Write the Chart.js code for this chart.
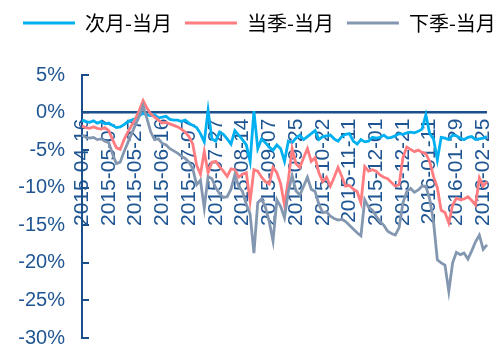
<!DOCTYPE html>
<html>
<head>
<meta charset="utf-8">
<script src="https://cdn.jsdelivr.net/npm/chart.js@4.4.1/dist/chart.umd.min.js"></script>
<style>
  html, body { margin: 0; padding: 0; background: #fff; overflow: hidden; }
  #wrap { width: 560px; height: 352px; }
</style>
</head>
<body>
<div id="wrap"><canvas id="spreadChart" width="560" height="352"></canvas></div>
<script>
const seriesNames = ["次月-当月", "当季-当月", "下季-当月"];

// one label every 7 points (points are every other trading day)
const tickLabels = [
    "2015-04-16", "2015-05-07", "2015-05-27", "2015-06-16", "2015-07-07", "2015-07-27",
    "2015-08-14", "2015-09-07", "2015-09-25", "2015-10-22", "2015-11-11", "2015-12-01",
    "2015-12-21", "2016-01-11", "2016-01-29", "2016-02-25"
];
const labelStep = 7;

const nextMonth = [
    -1.0, -1.2, -1.3, -1.1, -1.4, -1.2, -1.5, -1.4, -1.7, -2.0,
    -1.9, -1.6, -1.2, -1.0, -0.8, -0.4, -0.1, -0.3, -0.4, -0.3,
    -0.7, -0.6, -0.5, -0.9, -1.0, -1.0, -1.2, -1.0, -1.4, -1.7,
    -2.0, -2.8, -3.9, 0.3, -3.5, -3.8, -2.6, -2.9, -3.5, -4.2,
    -2.4, -3.0, -3.6, -4.3, -6.5, 0.2, -4.8, -3.5, -4.0, -4.6,
    -5.0, -4.3, -4.8, -6.5, -3.8, -4.0, -3.4, -3.0, -3.6, -3.2,
    -2.8, -2.4, -3.6, -3.2, -3.1, -3.0, -3.5, -3.8, -3.2, -2.9,
    -2.8, -3.8, -4.2, -3.6, -3.9, -3.8, -3.3, -3.4, -3.3, -3.0,
    -3.4, -3.3, -3.1, -2.8, -2.9, -2.7, -2.6, -2.7, -2.5, -2.2,
    -0.3, -2.8, -3.5, -6.3, -3.3, -3.4, -3.6, -3.0, -3.1, -3.4,
    -3.6, -3.3, -3.2, -3.6, -3.5, -3.4, -3.2
];
const thisQuarter = [
    -1.8, -2.0, -2.1, -1.9, -2.1, -2.2, -2.0, -2.4, -3.6, -4.7,
    -4.9, -3.6, -2.6, -1.7, -0.8, 0.3, 1.6, 0.6, -0.2, -0.6,
    -1.0, -1.4, -1.3, -1.5, -1.7, -1.9, -2.2, -2.6, -3.2, -4.2,
    -7.0, -8.2, -5.2, -8.0, -6.6, -6.5, -7.2, -7.8, -8.5, -7.5,
    -7.6, -8.6, -8.2, -8.0, -11.8, -7.6, -7.8, -8.6, -9.2, -9.5,
    -7.3, -8.0, -9.5, -12.3, -9.0, -4.8, -6.8, -7.3, -6.0, -4.8,
    -6.5, -6.0, -8.0, -9.2, -8.6, -9.8, -8.6, -7.3, -8.5, -9.8,
    -9.7, -10.2, -10.5, -12.0, -7.2, -7.8, -7.6, -7.8, -8.3, -8.6,
    -8.8, -9.3, -9.8, -9.6, -6.0, -4.6, -4.9, -5.2, -5.0, -5.3,
    -5.5, -6.5, -8.5, -10.0, -13.0, -13.3, -14.7, -12.3, -11.4, -11.6,
    -11.5, -11.2, -11.7, -12.3, -8.7, -9.8, -9.2
];
const nextQuarter = [
    -3.0, -3.3, -3.4, -3.3, -3.6, -3.5, -3.8, -4.0, -5.5, -6.8,
    -6.6, -5.2, -4.0, -2.8, -1.6, -0.5, 0.9, -0.8, -2.6, -3.6,
    -3.5, -4.1, -4.3, -4.8, -5.1, -5.4, -5.8, -6.1, -6.6, -7.5,
    -9.6, -9.0, -12.7, -8.5, -8.8, -10.0, -10.8, -11.3, -11.2, -10.2,
    -8.3, -9.8, -10.5, -12.2, -13.5, -18.7, -12.0, -11.5, -12.6, -14.5,
    -17.1, -11.6, -12.5, -14.0, -10.5, -8.4, -10.4, -11.0, -9.8, -8.6,
    -10.2, -10.5, -12.2, -13.3, -13.2, -13.8, -14.1, -14.3, -14.2, -14.5,
    -15.0, -15.5, -16.0, -16.4, -11.6, -12.6, -13.0, -13.8, -14.5, -15.0,
    -15.8, -16.1, -16.3, -15.3, -12.0, -10.5, -10.1, -10.6, -10.3, -9.8,
    -9.8, -11.5, -14.5, -19.6, -20.0, -20.3, -23.8, -20.0, -18.6, -18.9,
    -18.7, -19.5, -18.4, -17.2, -16.3, -18.2, -17.6
];

const axisColor = "#1B4F8C";
const textColor = "#1F5592";
const numFont = { family: '"Liberation Sans", Arial, sans-serif', size: 20 };

const xLabels = nextMonth.map((_, i) => (i % labelStep === 0 ? tickLabels[i / labelStep] || "" : ""));

// push the plot down below the legend
const legendSpacer = {
    id: "legendSpacer",
    beforeInit(chart) {
        const origFit = chart.legend.fit;
        chart.legend.fit = function () {
            origFit.bind(chart.legend)();
            this.height += 32;
        };
    },
};

const ctx = document.getElementById("spreadChart").getContext("2d");

new Chart(ctx, {
    type: "line",
    data: {
        labels: xLabels,
        datasets: [
            { label: seriesNames[0], data: nextMonth, borderColor: "#00B0F0", order: 3 },
            { label: seriesNames[1], data: thisQuarter, borderColor: "#FF7C80", order: 2 },
            { label: seriesNames[2], data: nextQuarter, borderColor: "#8497B0", order: 1 },
        ].map((ds) => ({ ...ds, backgroundColor: ds.borderColor, borderWidth: 2.8, pointRadius: 0, tension: 0 })),
    },
    options: {
        responsive: false,
        animation: false,
        devicePixelRatio: 1,
        layout: { padding: { left: 10, top: 0, right: 0, bottom: 14 } },
        plugins: {
            tooltip: { enabled: false },
            legend: {
                align: "start",
                labels: {
                    boxWidth: 52,
                    boxHeight: 3,
                    padding: 13,
                    color: textColor,
                    font: { family: '"Noto Sans CJK SC", sans-serif', size: 20 },
                    generateLabels: (chart) =>
                        chart.data.datasets.map((ds, i) => ({
                            text: ds.label,
                            fillStyle: ds.borderColor,
                            strokeStyle: ds.borderColor,
                            lineWidth: 0,
                            hidden: false,
                            datasetIndex: i,
                        })),
                },
            },
        },
        scales: {
            x: {
                type: "category",
                position: { y: 0 },
                z: 1,
                grid: { display: false, drawTicks: false },
                border: { display: false },
                ticks: {
                    autoSkip: false,
                    minRotation: 90,
                    maxRotation: 90,
                    padding: 6,
                    color: textColor,
                    font: { family: numFont.family, size: 21 },
                    callback: (v, i) => xLabels[i],
                },
            },
            y: {
                position: "left",
                min: -30,
                max: 5,
                afterFit: (s) => {
                    s.width = 72;
                    s.paddingTop = 0;
                    s.paddingBottom = 0;
                },
                ticks: {
                    stepSize: 5,
                    padding: 24,
                    color: textColor,
                    font: numFont,
                    callback: (v) => v + "%",
                },
                grid: {
                    color: (c) => (c.tick && c.tick.value === 0 ? axisColor : "rgba(0,0,0,0)"),
                    lineWidth: (c) => (c.tick && c.tick.value === 0 ? 2.5 : 0),
                    tickLength: -7,
                    tickColor: axisColor,
                    tickWidth: 2,
                },
                border: { color: axisColor, width: 2 },
            },
            yR: {
                position: "right",
                display: true,
                grid: { display: false },
                ticks: { display: false },
                border: { display: false },
                afterFit: (s) => { s.width = 73; },
            },
        },
    },
    plugins: [legendSpacer],
});
</script>
</body>
</html>
